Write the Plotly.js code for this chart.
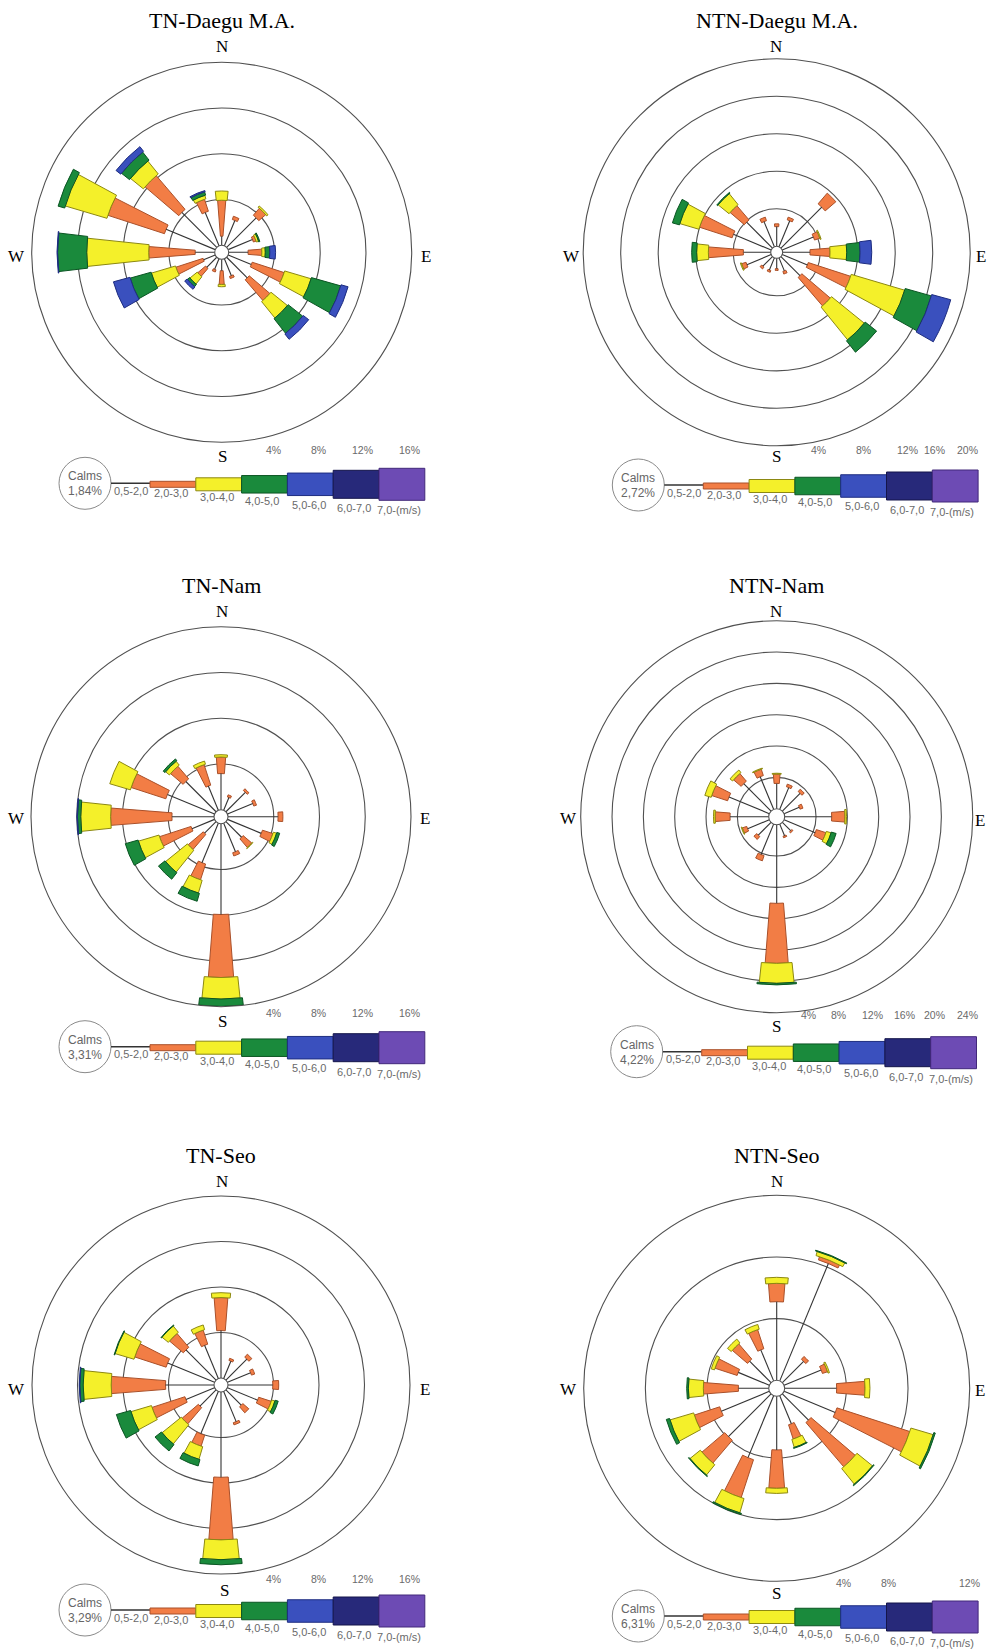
<!DOCTYPE html>
<html><head><meta charset="utf-8">
<script src="https://cdn.plot.ly/plotly-3.0.1.min.js"></script>
<style>html,body{margin:0;padding:0;background:#fff}#chart{width:988px;height:1651px}</style>
</head><body><div id="chart"></div>
<script>
// ---------- categories ----------
const directions = [0, 22.5, 45, 67.5, 90, 112.5, 135, 157.5, 180, 202.5, 225, 247.5, 270, 292.5, 315, 337.5];
const dirNames = ['N','NNE','NE','ENE','E','ESE','SE','SSE','S','SSW','SW','WSW','W','WNW','NW','NNW'];
const speedClasses = ['0,5-2,0','2,0-3,0','3,0-4,0','4,0-5,0','5,0-6,0','6,0-7,0','7,0-(m/s)'];
const noData = [0,0,0,0,0,0,0,0,0,0,0,0,0,0,0,0];

// ---------- TN-Daegu M.A. (% frequency per speed class) ----------
//                  N    NNE  NE    ENE  E    ESE   SE    SSE  S    SSW  SW    WSW  W     WNW   NW    NNW
const tnDaegu_c1 = [0.8, 2.4, 3.65, 2.3, 1.7, 2.19, 2.55, 1.6, 1.0, 1.0, 1.24, 1.1, 1.71, 4.65, 4.32, 3.16];
const tnDaegu_c2 = [3.14,0.3, 0.8,  0.25,1.2, 2.94, 2.38, 0.2, 1.2, 0.2, 0.9,  2.5, 4.06, 5.2,  3.88, 1.1];
const tnDaegu_c3 = [0.81,0,   0.15, 0.2, 0.3, 2.41, 1.85, 0,   0.2, 0,   0.82, 2.2, 5.42, 3.8,  1.45, 0.32];
const tnDaegu_c4 = [0,   0,   0,    0.1, 0.4, 2.66, 1.63, 0,   0,   0,   0.25, 1.9, 2.55, 0.6,  0.9,  0.3];
const tnDaegu_c5 = [0,   0,   0,    0,   0.5, 0.64, 0.6,  0,   0,   0,   0.27, 1.5, 0.05, 0,    0.52, 0.1];

// ---------- NTN-Daegu M.A. ----------
const ntnDaegu_c1 = [2.1, 3.0, 6.16, 3.6, 2.92, 2.9, 2.88, 1.5, 1.1, 1.4, 1.45, 2.8, 2.92, 4.36, 3.9, 2.9];
const ntnDaegu_c2 = [0.3, 0.3, 1.5,  0.6, 2.13, 4.75,4.0,  0.3, 0.2, 0.2, 0.25, 0.5, 3.73, 3.66, 2.0, 0.4];
const ntnDaegu_c3 = [0,   0,   0,    0.1, 1.78, 5.95,4.5,  0,   0,   0,   0,    0.1, 1.25, 2.12, 1.5, 0];
const ntnDaegu_c4 = [0,   0,   0,    0,   1.43, 2.9, 1.55, 0,   0,   0,   0,    0,   0.53, 0.78, 0.1, 0];
const ntnDaegu_c5 = [0,   0,   0,    0,   1.24, 2.1, 0,    0,   0,   0,   0,    0,   0,    0,    0,   0];

// ---------- TN-Nam ----------
const tnNam_c1 = [3.16, 1.2, 2.4, 2.4, 4.38, 3.2, 1.93, 2.7, 7.94, 3.74, 1.42, 2.14, 3.68, 4.46, 3.74, 2.29];
const tnNam_c2 = [1.45, 0.2, 0.2, 0.25,0.42, 0.96,1.0,  0.3, 5.51, 1.45, 1.74, 2.9,  5.36, 3.19, 1.45, 1.88];
const tnNam_c3 = [0.2,  0,   0,   0,   0,    0.3, 0.05, 0,   1.88, 1.16, 2.46, 1.88, 2.61, 1.88, 0.43, 0.29];
const tnNam_c4 = [0,    0,   0,   0,   0,    0.26,0,    0,   0.64, 0.72, 0.73, 1.16, 0.29, 0,    0.2,  0];
const tnNam_c5 = [0,    0,   0,   0,   0,    0,   0,    0,   0,    0,    0,    0,    0.05, 0,    0,    0];

// ---------- NTN-Nam ----------
const ntnNam_c1 = [3.23, 3.0, 3.2, 2.1, 6.0, 4.3, 1.5, 1.6, 10.04, 4.2, 2.3, 3.0, 4.94, 5.57, 4.94, 4.5];
const ntnNam_c2 = [1.2,  0.35,0.4, 0.4, 1.7, 1.28,0.2, 0.2, 7.66,  0.7, 0.5, 0.6, 1.91, 2.13, 1.28, 0.85];
const ntnNam_c3 = [0.1,  0,   0,   0,   0.2, 0.64,0,   0,   2.55,  0,   0,   0.1, 0.2,  0.85, 0.43, 0.1];
const ntnNam_c4 = [0,    0,   0,   0,   0,   0.64,0,   0,   0.2,   0,   0,   0,   0,    0,    0,    0];
const ntnNam_c5 = noData;

// ---------- TN-Seo ----------
const tnSeo_c1 = [4.17, 1.65, 2.6, 2.2, 3.94, 2.87, 1.9, 2.87, 7.5, 4.03, 2.0, 2.72, 4.26, 4.46, 3.74, 3.16];
const tnSeo_c2 = [2.9,  0.2,  0.35,0.3, 0.52, 1.16, 0.7, 0.2,  5.5, 1.01, 1.88,3.04, 4.78, 2.9,  1.6,  1.3];
const tnSeo_c3 = [0.43, 0,    0,   0,   0,    0.3,  0,   0,    1.74,1.16, 2.17,1.88, 2.46, 1.74, 0.72, 0.43];
const tnSeo_c4 = [0,    0,    0,   0,   0,    0.28, 0,   0,    0.45,0.58, 0.72,1.3,  0.3,  0.05, 0.05, 0];
const tnSeo_c5 = [0,    0,    0,   0,   0,    0,    0,   0,    0,   0,    0,   0,    0.05, 0,    0,    0];

// ---------- NTN-Seo ----------
const ntnSeo_c1 = [5.1,  8.24, 1.95, 2.6, 3.37, 3.59, 2.4, 1.97, 3.48, 4.35, 3.91, 3.37, 1.97, 2.18, 1.97, 2.18];
const ntnSeo_c2 = [1.19, 0.22, 0.25, 0.35,1.84, 4.97, 3.78,0.97, 2.49, 2.59, 1.95, 1.73, 2.27, 1.51, 1.3,  1.3];
const ntnSeo_c3 = [0.39, 0.28, 0,    0.1, 0.32, 1.51, 1.3, 0.54, 0.33, 0.97, 0.86, 1.6,  0.97, 0.22, 0.32, 0.32];
const ntnSeo_c4 = [0,    0.05, 0,    0,   0,    0.1,  0.05,0.05, 0,    0.08, 0.05, 0.22, 0.11, 0,    0,    0];
const ntnSeo_c5 = noData;

// ---------- panel texts ----------
const panelTitles = ['TN-Daegu M.A.', 'NTN-Daegu M.A.', 'TN-Nam', 'NTN-Nam', 'TN-Seo', 'NTN-Seo'];
const calmsValues = ['1,84%', '2,72%', '3,31%', '4,22%', '3,29%', '6,31%'];
const scaleMax = [16, 20, 16, 24, 16, 12];
const scaleLabels = [
  ['4%','8%','12%','16%'],
  ['4%','8%','12%','16%','20%'],
  ['4%','8%','12%','16%'],
  ['4%','8%','12%','16%','20%','24%'],
  ['4%','8%','12%','16%'],
  ['4%','8%','12%']
];
const panelSeries = [
  [tnDaegu_c1, tnDaegu_c2, tnDaegu_c3, tnDaegu_c4, tnDaegu_c5, noData, noData],
  [ntnDaegu_c1, ntnDaegu_c2, ntnDaegu_c3, ntnDaegu_c4, ntnDaegu_c5, noData, noData],
  [tnNam_c1, tnNam_c2, tnNam_c3, tnNam_c4, tnNam_c5, noData, noData],
  [ntnNam_c1, ntnNam_c2, ntnNam_c3, ntnNam_c4, ntnNam_c5, noData, noData],
  [tnSeo_c1, tnSeo_c2, tnSeo_c3, tnSeo_c4, tnSeo_c5, noData, noData],
  [ntnSeo_c1, ntnSeo_c2, ntnSeo_c3, ntnSeo_c4, ntnSeo_c5, noData, noData]
];

// ---------- styles ----------
const classFill = ['#333333', '#F27D45', '#F4F02A', '#1A8A3C', '#3A50BE', '#27297A', '#6D4BB4'];
const classEdge = ['#333333', '#A9502A', '#8C8812', '#0B5523', '#1E2D80', '#14154A', '#42287A'];
const classWidthDeg = [0, 9, 12, 13.5, 14.5, 15.5, 16.5];
const legendBarH = [0, 6, 13, 17.5, 22.5, 28, 32];
const legendLabelDx = [27, 67, 113, 158, 205, 250, 290];
const legendLabelDy = [7.5, 9.5, 14, 17.5, 21.5, 25, 27];

// ---------- geometry (pixels) ----------
const geom = [
  {cx:221.7, cy:252.3, R:190, hole:7, tx:221.7, ty:20, n:[222,46.7], w:[16.7,256.7], e:[426,256.7], s:[222.7,456.7], o:[85,483.3], pctY:450, pctX:[198.3,243.3,290,336.7]},
  {cx:776.7, cy:252.3, R:193.5, hole:6, tx:776.7, ty:20, n:[775.7,46.7], w:[571.7,256], e:[980.7,256], s:[776.7,456.7], o:[638.3,485], pctY:450, pctX:[190,235,281.7,308.4,341.7]},
  {cx:221, cy:816.7, R:190, hole:7, tx:221, ty:586, n:[222.3,611.7], w:[16,818.3], e:[425,818.3], s:[222.7,1021.7], o:[85,1046.7], pctY:1013.3, pctX:[198.3,243.3,290,336.7]},
  {cx:776.7, cy:816.7, R:196, hole:8, tx:776.7, ty:586, n:[775.7,611.7], w:[568.3,818.3], e:[980,820], s:[776,1026.7], o:[636.7,1051.7], pctY:1015, pctX:[181.6,211.6,248.3,280,310,343.3]},
  {cx:221, cy:1385, R:189, hole:7, tx:221, ty:1155, n:[222.3,1181.7], w:[16,1389.3], e:[425,1389.3], s:[224,1590], o:[85,1610], pctY:1579, pctX:[198.3,243.3,290,336.7]},
  {cx:776.7, cy:1388.3, R:193, hole:8, tx:776.7, ty:1155, n:[776.7,1181.7], w:[568.3,1389.3], e:[980,1390], s:[776.7,1593.3], o:[638.3,1616], pctY:1583, pctX:[215,260,343.4]}
];

const W = 988, H = 1651;
const px = x => x / W;
const py = y => 1 - y / H;

const traces = [];
const layout = {
  width: W, height: H,
  margin: {l:0, r:0, t:0, b:0},
  paper_bgcolor: '#ffffff',
  showlegend: false,
  shapes: [],
  annotations: []
};

const serif = 'Liberation Serif, Times New Roman, serif';
const sans = 'Liberation Sans, Arial, sans-serif';

geom.forEach((g, p) => {
  const key = p === 0 ? 'polar' : 'polar' + (p + 1);
  const ticks = [0];
  for (let t = 4; t <= scaleMax[p]; t += 4) ticks.push(t);
  layout[key] = {
    domain: {x: [px(g.cx - g.R), px(g.cx + g.R)], y: [py(g.cy + g.R), py(g.cy - g.R)]},
    hole: g.hole / g.R,
    bgcolor: 'rgba(0,0,0,0)',
    barmode: 'stack',
    radialaxis: {range: [0, scaleMax[p]], tickvals: ticks, showticklabels: false, ticks: '',
                 showline: false, showgrid: true, gridcolor: '#505050', gridwidth: 1.1},
    angularaxis: {rotation: 90, direction: 'clockwise', showgrid: false, showticklabels: false,
                  ticks: '', showline: true, linecolor: '#505050', linewidth: 1.1}
  };
  const series = panelSeries[p];
  // class 1 : stacking base (invisible bar) + thin spoke line
  traces.push({type: 'barpolar', subplot: key, r: series[0], theta: directions, width: 2,
               marker: {color: 'rgba(0,0,0,0)', line: {width: 0}}, hoverinfo: 'skip'});
  for (let c = 1; c < 7; c++) {
    traces.push({
      type: 'barpolar', subplot: key, name: speedClasses[c],
      r: series[c].map(v => v > 0 ? v : null), theta: directions,
      width: classWidthDeg[c],
      marker: {color: classFill[c], line: {color: classEdge[c], width: 1}}
    });
  }
  const lr = [], lt = [];
  series[0].forEach((v, i) => { lr.push(0, v, null); lt.push(directions[i], directions[i], null); });
  traces.push({type: 'scatterpolar', subplot: key, mode: 'lines', r: lr, theta: lt,
               line: {color: '#333333', width: 1.1}, hoverinfo: 'skip', connectgaps: false});

  // texts
  const ann = (x, y, text, size, font, color, xanchor) => layout.annotations.push({
    xref: 'paper', yref: 'paper', x: px(x), y: py(y), text: text, showarrow: false,
    xanchor: xanchor || 'center', yanchor: 'middle', font: {family: font, size: size, color: color}
  });
  ann(g.tx, g.ty, panelTitles[p], 22, serif, '#000');
  ann(g.n[0], g.n[1], 'N', 17, serif, '#000');
  ann(g.w[0], g.w[1], 'W', 17, serif, '#000');
  ann(g.e[0], g.e[1], 'E', 17, serif, '#000');
  ann(g.s[0], g.s[1], 'S', 17, serif, '#000');

  // legend strip
  const ox = g.o[0], oy = g.o[1];
  layout.shapes.push({type: 'circle', xref: 'paper', yref: 'paper',
    x0: px(ox - 26), x1: px(ox + 26), y0: py(oy + 26), y1: py(oy - 26),
    line: {color: '#8a8a8a', width: 1}, fillcolor: '#ffffff'});
  ann(ox, oy - 7, 'Calms', 12, sans, '#666');
  ann(ox, oy + 8, calmsValues[p], 12, sans, '#666');
  layout.shapes.push({type: 'line', xref: 'paper', yref: 'paper',
    x0: px(ox + 26), x1: px(ox + 65), y0: py(oy), y1: py(oy), line: {color: '#333', width: 1.5}});
  const segW = 45.8;
  for (let c = 1; c < 7; c++) {
    const x0 = ox + 65 + (c - 1) * segW, x1 = x0 + segW;
    const yc = oy + 1, h = legendBarH[c];
    layout.shapes.push({type: 'rect', xref: 'paper', yref: 'paper',
      x0: px(x0), x1: px(x1), y0: py(yc + h / 2), y1: py(yc - h / 2),
      fillcolor: classFill[c], line: {color: classEdge[c], width: 1}});
  }
  for (let c = 0; c < 7; c++) {
    ann(ox + legendLabelDx[c], oy + legendLabelDy[c], speedClasses[c], 11, sans, '#6a6a6a', 'left');
  }
  scaleLabels[p].forEach((t, i) => ann(ox + g.pctX[i], g.pctY, t, 10.5, sans, '#6a6a6a', 'right'));
});

Plotly.newPlot('chart', traces, layout, {staticPlot: true, displayModeBar: false});
</script>
</body></html>
